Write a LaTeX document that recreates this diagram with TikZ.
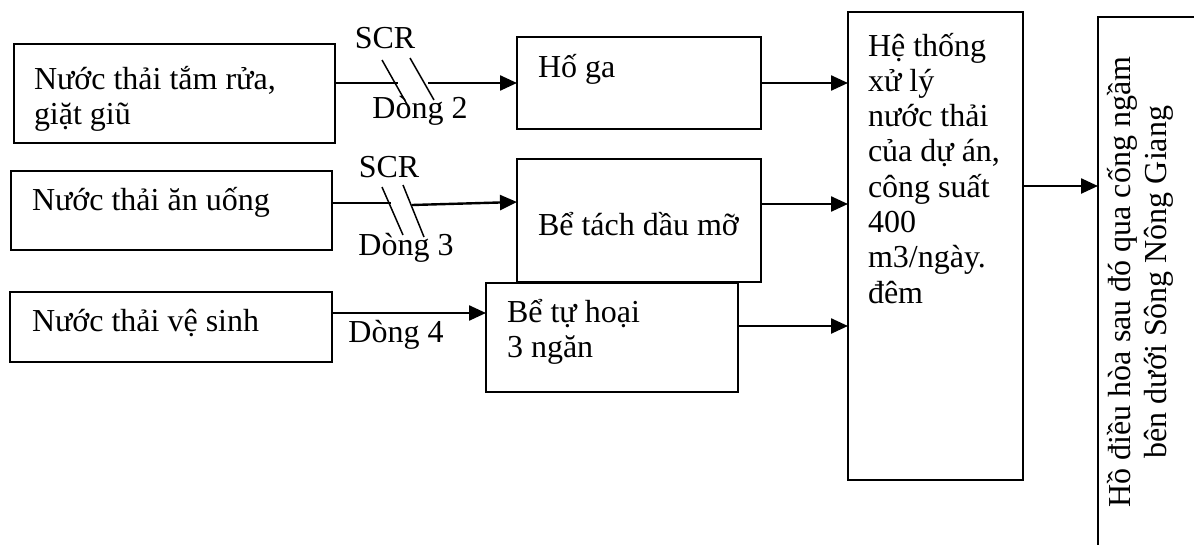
\documentclass[tikz,border=0pt]{standalone}
\usepackage{fontspec}
\setmainfont{Liberation Serif}
\usetikzlibrary{arrows.meta}
\begin{document}
\begin{tikzpicture}[x=1pt,y=-1pt,
  box/.style={draw, line width=2pt, inner sep=0pt, outer sep=0pt},
  txt/.style={inner sep=0pt, outer sep=0pt, align=left, font=\fontsize{32}{35.3}\selectfont},
  lbl/.style={inner sep=0pt, outer sep=0pt, anchor=base, font=\fontsize{32}{35.3}\selectfont},
  line/.style={line width=2.4pt},
  arr/.style={line width=2.4pt, -{Triangle[length=17pt,width=15pt]}},
  slashline/.style={line width=1.5pt}]
\useasboundingbox (0,0) rectangle (1194,544);
\clip (0,0) rectangle (1194,544);
% boxes
\node[box, minimum width=321pt, minimum height=99pt] (b1) at (174.5,93.5) {};
\node[box, minimum width=321pt, minimum height=79pt] (b2) at (171.5,210.5) {};
\node[box, minimum width=322pt, minimum height=70pt] (b3) at (171,327) {};
\node[box, minimum width=244pt, minimum height=92pt] (hg) at (639,83) {};
\node[box, minimum width=244pt, minimum height=123pt] (bt) at (639,220.5) {};
\node[box, minimum width=252pt, minimum height=109pt] (tk) at (612,337.5) {};
\node[box, line width=1.6pt, minimum width=175pt, minimum height=468pt] (sys) at (935.5,246) {};
\node[box, minimum width=122pt, minimum height=553pt] (dst) at (1159,293.5) {};
% texts (base anchor = baseline of last line)
\node[txt, anchor=base west] (t1) at (34,124.3) {Nước thải tắm rửa,\\giặt giũ};
\node[txt, anchor=base west] (t2) at (32,210) {Nước thải ăn uống};
\node[txt, anchor=base west] (t3) at (32,331) {Nước thải vệ sinh};
\node[txt, anchor=base west] (t4) at (538,77) {Hố ga};
\node[txt, anchor=base west] (t5) at (538,235) {Bể tách dầu mỡ};
\node[txt, anchor=base west] (t6) at (507,357.3) {Bể tự hoại\\3 ngăn};
\node[txt, anchor=base west] (t7) at (868,303.1) {Hệ thống\\xử lý\\nước thải\\của dự án,\\công suất\\400\\m3/ngày.\\đêm};
\node[txt, align=center, rotate=90, anchor=base] (t8) at (1166,282) {Hồ điều hòa sau đó qua cống ngầm\\bên dưới Sông Nông Giang};
% labels
\node[lbl] (scr1) at (385,48) {SCR};
\node[lbl] (d2) at (420,118) {Dòng 2};
\node[lbl] (scr2) at (389,177) {SCR};
\node[lbl] (d3) at (406,255) {Dòng 3};
\node[lbl] (d4) at (396,342) {Dòng 4};
% gap coordinates
\coordinate (g1a) at (398,83);
\coordinate (g1b) at (428,83);
\coordinate (g2a) at (391,203);
\coordinate (g2b) at (412,205);
\coordinate (g2c) at (517,202);
\coordinate (g3) at (400,313);
\coordinate (o2) at (800,204);
\coordinate (o3) at (800,326);
\coordinate (o4) at (1060,186);
% connectors
\draw[line] (b1.east |- hg.west) -- (g1a);
\draw[arr] (g1b) -- (hg.west);
\draw[slashline] (382,60) -- (408,106);
\draw[slashline] (410,58) -- (434,100);
\draw[line] (b2.east |- g2a) -- (g2a);
\draw[arr] (g2b) -- (g2c);
\draw[slashline] (382,187) -- (403,235);
\draw[slashline] (403,185) -- (424,237);
\draw[arr] (b3.east |- g3) -- (tk.west |- g3);
\draw[arr] (hg.east) -- (sys.west |- hg.east);
\draw[arr] (bt.east |- o2) -- (sys.west |- o2);
\draw[arr] (tk.east |- o3) -- (sys.west |- o3);
\draw[arr] (sys.east |- o4) -- (dst.west |- o4);
\end{tikzpicture}
\end{document}
